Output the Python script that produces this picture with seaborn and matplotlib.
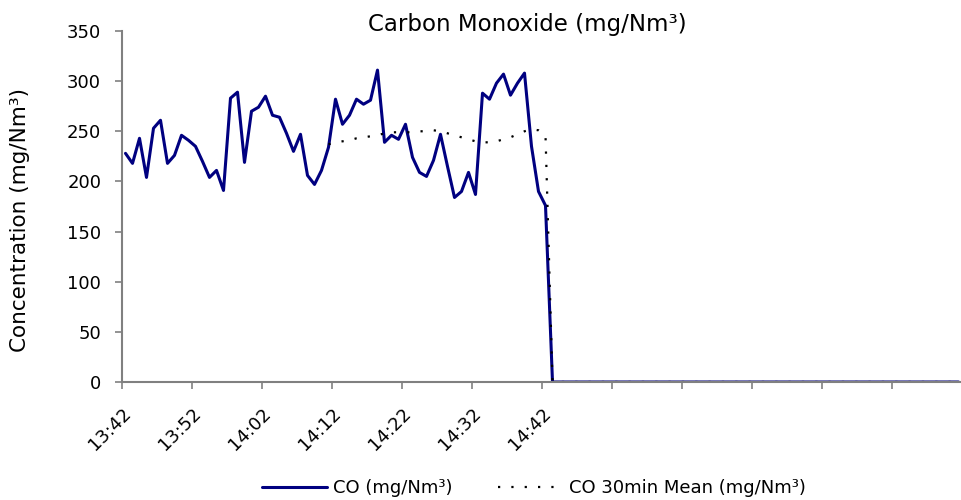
import numpy as np
import pandas as pd
import matplotlib
matplotlib.use("Agg")
import matplotlib.pyplot as plt
import seaborn as sns

# ---- data (one value per minute, 120 categories starting 13:42) ----
co_active = [228, 218, 243, 204, 253, 261, 218, 226, 246, 241,
             235, 220, 204, 211, 191, 283, 289, 219, 270, 274,
             285, 266, 264, 248, 230, 247, 206, 197, 211, 234,
             282, 257, 266, 282, 277, 281, 311, 239, 246, 242,
             257, 224, 209, 205, 221, 247, 215, 184, 190, 209,
             187, 288, 282, 298, 307, 286, 298, 308, 235, 190,
             176]
mean_active = [237, 239, 240, 241, 243, 244, 245, 246, 248, 249,
               249, 249, 249, 250, 250, 251, 250, 248, 246, 244,
               242, 240, 239, 239, 240, 242, 244, 247, 250, 252,
               251, 246]
n_total = 120
mean_start = 29
tick_labels = ["13:42", "13:52", "14:02", "14:12", "14:22", "14:32", "14:42",
               "", "", "", "", "", ""]

co = co_active + [0] * (n_total - len(co_active))
mean = [np.nan] * mean_start + mean_active + [0] * (n_total - mean_start - len(mean_active))
idx = np.arange(n_total)
df = pd.DataFrame({"pos": idx + 0.5, "co": co, "mean": mean})

sns.set_theme(style="white")
plt.rcParams['font.family'] = ['DejaVu Sans']
plt.rcParams['text.color'] = 'black'
plt.rcParams['xtick.bottom'] = True
plt.rcParams['ytick.left'] = True
plt.rcParams['xtick.major.size'] = 5
plt.rcParams['ytick.major.size'] = 5
plt.rcParams['xtick.major.width'] = 1.2
plt.rcParams['ytick.major.width'] = 1.2

fig = plt.figure(figsize=(9.62, 5.0), dpi=100)
ax = fig.add_axes([122/962, 1 - 382/500, 840/962, (382-31)/500])

sns.lineplot(data=df, x="pos", y="co", ax=ax, color="#000080", lw=2.2,
             label="CO (mg/Nm³)")
sns.lineplot(data=df.dropna(), x="pos", y="mean", ax=ax, color="black", lw=1.6,
             label="CO 30min Mean (mg/Nm³)")
ax.lines[1].set_dashes((1, 5))

ax.set_xlim(0, n_total)
ax.set_ylim(0, 350)
ax.set_yticks(np.arange(0, 351, 50))
ax.set_xticks(np.arange(0, n_total + 1, 10))
ax.set_xticklabels(tick_labels, rotation=45, ha="right", va="top",
                   rotation_mode="anchor")
ax.tick_params(axis="both", length=5, width=1.2, color="#808080",
               labelcolor="black", direction="out", bottom=True, left=True)
ax.tick_params(axis="x", labelsize=13, pad=11)
ax.tick_params(axis="y", labelsize=13, pad=10)
for s in ["top", "right"]:
    ax.spines[s].set_visible(False)
for s in ["left", "bottom"]:
    ax.spines[s].set_color("#808080")
    ax.spines[s].set_linewidth(1.5)

ax.set_xlabel("")
ax.set_ylabel("")
fig.text(20/962, 1 - 220/500, "Concentration (mg/Nm³)", rotation=90,
         ha="center", va="center", fontsize=15.5)
fig.text(527/962, 1 - 24/500, "Carbon Monoxide (mg/Nm³)", ha="center",
         va="center", fontsize=16.5)

leg = ax.legend(loc="center", bbox_to_anchor=(534/962, 12/500),
                bbox_transform=fig.transFigure, ncol=2, frameon=False,
                fontsize=13, handlelength=3.6, handletextpad=0.35,
                columnspacing=2.5)
for t in leg.get_texts():
    t.set_color("black")
leg.get_lines()[1].set_dashes((1, 5))

fig.savefig("out.png", dpi=100)

# sanity check: x tick marks must be drawn
xt = ax.xaxis.get_major_ticks()
assert all(t.tick1line.get_visible() for t in xt), "x ticks hidden"
assert xt[8].tick1line.get_markersize() >= 4, "x ticks too short"
